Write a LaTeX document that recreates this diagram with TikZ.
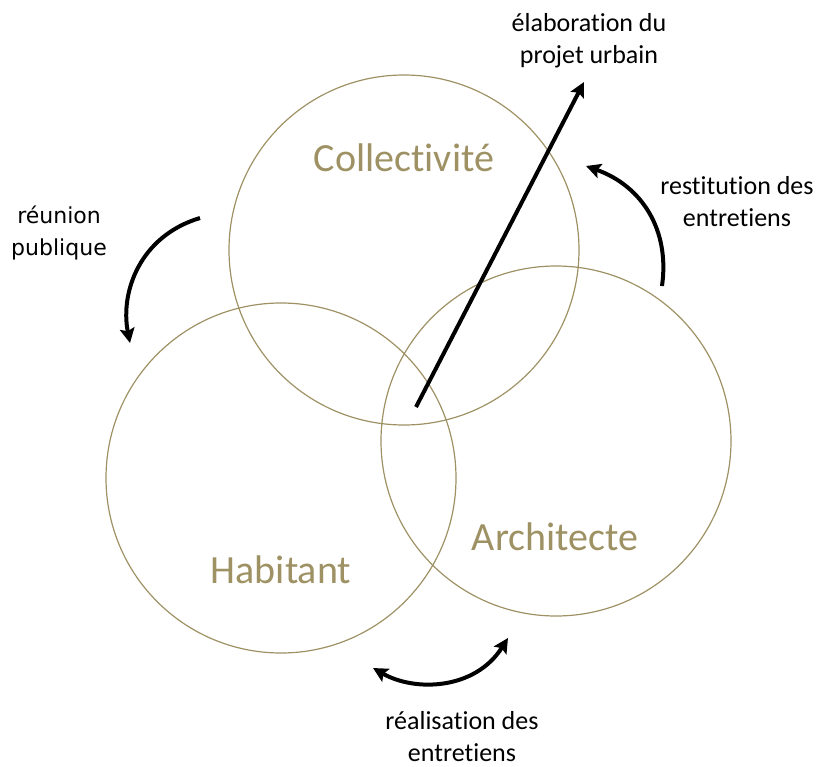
\documentclass[tikz,border=0pt]{standalone}
\usepackage{fontspec}
\setmainfont{Carlito}[Ligatures=NoCommon]
\newfontfamily\dejavu{DejaVu Sans}
\usetikzlibrary{arrows.meta}
\definecolor{olive}{RGB}{158,145,100}

\begin{document}
\begin{tikzpicture}[x=0.75pt, y=-0.75pt,
  role/.style={circle,draw=olive,line width=0.9pt,minimum size=262.5pt,inner sep=0pt},
  rolename/.style={text=olive,font=\fontsize{30}{36}\selectfont},
  note/.style={align=center,font=\fontsize{19.5}{24}\selectfont},
  flow/.style={line width=3pt,-{Stealth[length=11pt,width=11pt,inset=2pt]}}]
  \useasboundingbox (0,0) rectangle (821,767);
  \node[role] (coll) at (404,250) {};
  \node[role] (hab) at (281,478) {};
  \node[role] (arch) at (556,441) {};
  \node[rolename] (tcoll) at (404,158) {Collectivité};
  \node[rolename] (thab) at (281,570) {Habitant};
  \node[rolename] (tarch) at (555,537) {Architecte};
  \node[note] (elab) at (589,41) {élaboration du\\projet urbain};
  \node[note] (rest) at (737,202) {restitution des\\entretiens};
  \node[note,font=\dejavu\fontsize{16.5}{24}\selectfont] (reun) at (59,233) {réunion\\publique};
  \node[note] (real) at (462,737) {réalisation des\\entretiens};
  \coordinate (p1) at (416,407);
  \coordinate (p2) at (584,82);
  \coordinate (r1) at (662,286);
  \coordinate (r2) at (586,166);
  \coordinate (u1) at (200,218);
  \coordinate (u2) at (130,343);
  \coordinate (e1) at (373,668);
  \coordinate (e2) at (508,638);
  \draw[flow] (p1) -- (p2);
  \draw[flow] (r1) .. controls (670,230) and (642,186) .. (r2);
  \draw[flow] (u1) .. controls (140,236) and (120,292) .. (u2);
  \draw[flow,{Stealth[length=11pt,width=11pt,inset=2pt]}-{Stealth[length=11pt,width=11pt,inset=2pt]}] (e1) .. controls (415,692) and (475,690) .. (e2);
\end{tikzpicture}
\end{document}
